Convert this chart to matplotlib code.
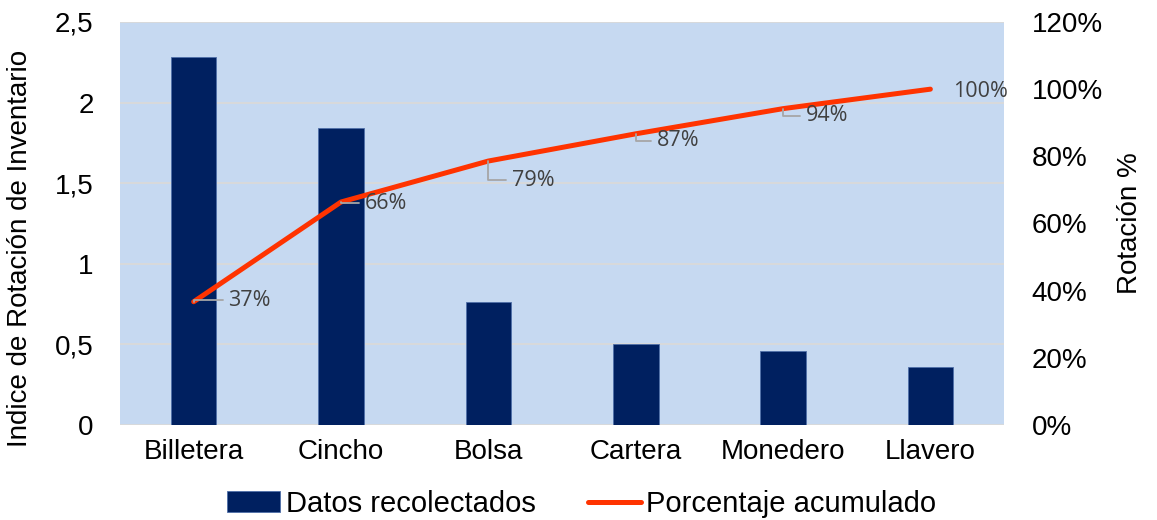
import matplotlib
matplotlib.use("Agg")
import matplotlib.pyplot as plt
from matplotlib.ticker import FuncFormatter

plt.rcParams['font.family'] = ['Liberation Sans', 'DejaVu Sans']

# datos
productos = ['Billetera', 'Cincho', 'Bolsa', 'Cartera', 'Monedero', 'Llavero']
indice_rotacion = [2.28, 1.84, 0.76, 0.50, 0.46, 0.36]
pct_acumulado = [36.7, 66.4, 78.6, 86.7, 94.2, 100.0]
etiquetas = ['37%', '66%', '79%', '87%', '94%', '100%']

# desplazamiento de las etiquetas (puntos)
offs = [(25, 1), (17, -1), (17, -14), (15, -5), (16.5, -5), (16.5, -2)]

c_barra = '#002060'
c_linea = '#FF3300'
c_fondo = '#C6D9F1'
c_grid = '#D9D9D9'

fig = plt.figure(figsize=(11.57, 5.2), dpi=100)
ax = fig.add_axes([0.1037, 0.1827, 0.7641, 0.775])
ax.set_facecolor(c_fondo)

x = range(len(productos))
barras = ax.bar(x, indice_rotacion, width=0.31, color=c_barra,
                edgecolor='#4F6FA8', linewidth=0.6, zorder=3,
                label='Datos recolectados')
ax.set_xlim(-0.5, len(productos) - 0.5)
ax.set_ylim(0, 2.5)
ax.set_yticks([0, 0.5, 1, 1.5, 2, 2.5])
ax.yaxis.set_major_formatter(FuncFormatter(lambda v, p: ('%g' % v).replace('.', ',')))
ax.grid(axis='y', color=c_grid, linewidth=1.3, zorder=0)
ax.set_axisbelow(True)
ax.set_xticks(list(x))
ax.set_xticklabels(productos)
ax.tick_params(axis='both', length=0, labelsize=20, colors='black', pad=10)
ax.tick_params(axis='y', pad=19)
for s in ax.spines.values():
    s.set_visible(False)
ax.set_ylabel('Indice de Rotación de Inventario', fontsize=20)
ax.yaxis.set_label_coords(-0.098, 0.437)

ax2 = ax.twinx()
ax2.patch.set_visible(False)
linea, = ax2.plot(list(x), pct_acumulado, color=c_linea, linewidth=3.6,
                  solid_capstyle='round', zorder=4, label='Porcentaje acumulado')
ax2.set_ylim(0, 120)
ax2.set_yticks(range(0, 121, 20))
ax2.yaxis.set_major_formatter(FuncFormatter(lambda v, p: '%d%%' % v))
ax2.tick_params(axis='y', length=0, labelsize=20, pad=20)
for s in ax2.spines.values():
    s.set_visible(False)
ax2.set_ylabel('Rotación %', fontsize=20, labelpad=10)

for i, (v, t) in enumerate(zip(pct_acumulado, etiquetas)):
    dx, dy = offs[i]
    ap = None
    if i < len(etiquetas) - 1:
        ap = dict(arrowstyle='-', color='#A6A6A6', lw=1.3, shrinkA=2, shrinkB=0,
                  relpos=(0, 0.5), connectionstyle='angle,angleA=0,angleB=90,rad=0')
    ax2.annotate(t, xy=(i, v), xytext=(dx, dy), textcoords='offset points',
                 ha='left', va='center', fontsize=15.5, color='#404040',
                 family=['Open Sans', 'DejaVu Sans'], arrowprops=ap, zorder=5)

fig.legend([barras, linea], ['Datos recolectados', 'Porcentaje acumulado'],
           loc='center', bbox_to_anchor=(0.503, 0.031), ncol=2, frameon=False,
           fontsize=21, handlelength=1.8, handletextpad=0.2, columnspacing=1.8)

fig.savefig('out.png', dpi=100)
